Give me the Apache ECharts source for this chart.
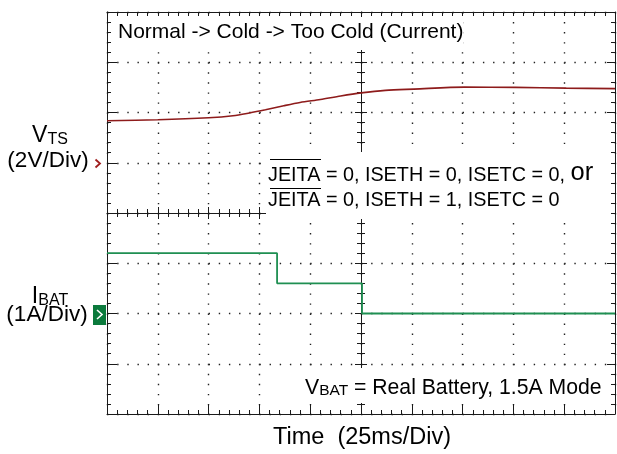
<!DOCTYPE html>
<html><head><meta charset="utf-8">
<script src="https://cdn.jsdelivr.net/npm/echarts@6.0.0/dist/echarts.min.js"></script>
<style>html,body{margin:0;padding:0;background:#fff}#c{width:617px;height:454px}</style>
</head><body><div id="c"></div>
<script>
// V_TS trace (ms, volts) – channel 1, 2 V/div, ground marker at 5th division
const vtsTime  = [0, 25, 50, 62, 70, 78, 87, 95, 105, 115, 125, 137, 151, 176, 201, 226, 250];
const vtsVolts = [1.67, 1.71, 1.79, 1.87, 1.98, 2.11, 2.27, 2.40, 2.52, 2.66, 2.78, 2.88, 2.93, 3.01, 3.00, 2.97, 2.95];
// I_BAT trace (ms, amps) – channel 2, 1 A/div, ground marker at 2nd division
const ibatTime = [0, 83.7, 83.7, 125.5, 125.5, 250];
const ibatAmps = [1.20, 1.20, 0.60, 0.60, 0.00, 0.00];
// scope settings
const timeRange = [0, 250];   // 25 ms/div, 10 div
const voltRange = [-10, 6];   // 2 V/div, 8 div
const ampRange  = [-2, 6];    // 1 A/div, 8 div

const FONT = "'Liberation Sans', Arial, Helvetica, sans-serif";
const K = '#1a1a1a';
const gridRect = {left:107, top:12, right:2, bottom:40};
const dotH = {color:'#222', width:1.4, type:[1.4, 8.76]};
const dotV = {color:'#222', width:1.4, type:[1.4, 8.65]};

function frameAxis(extra){
  return Object.assign({
    type:'value', axisLabel:{show:false}, splitLine:{show:false},
    axisLine:{show:true, lineStyle:{color:K, width:1}},
    axisTick:{show:true, inside:true, length:4, lineStyle:{color:K, width:1}},
    minorTick:{show:true, splitNumber:5, length:4, lineStyle:{color:K, width:1}},
    minorSplitLine:{show:false}
  }, extra);
}

const chart = echarts.init(document.getElementById('c'), null, {renderer:'canvas'});
chart.setOption({
  animation:false,
  backgroundColor:'#fff',
  grid:[Object.assign({}, gridRect), Object.assign({}, gridRect), Object.assign({}, gridRect)],
  xAxis:[
    frameAxis({gridIndex:0, position:'bottom', min:timeRange[0], max:timeRange[1], interval:25,
      axisLine:{show:true, onZero:false, lineStyle:{color:K}},
      axisTick:{show:true, inside:true, length:10, lineStyle:{color:K}},
      splitLine:{show:true, lineStyle:dotV}}),
    frameAxis({gridIndex:0, position:'top', min:timeRange[0], max:timeRange[1], interval:25,
      axisLine:{show:true, onZero:false, lineStyle:{color:K}}}),
    frameAxis({gridIndex:1, position:'bottom', min:-5, max:5, interval:1,
      axisLine:{show:true, onZero:true, lineStyle:{color:K}},
      axisTick:{show:true, inside:true, length:6, lineStyle:{color:K}}}),
    frameAxis({gridIndex:2, position:'top', min:-5, max:5, interval:1,
      axisLine:{show:false, onZero:true},
      axisTick:{show:true, inside:true, length:6, lineStyle:{color:K}}})
  ],
  yAxis:[
    frameAxis({gridIndex:0, position:'left', min:voltRange[0], max:voltRange[1], interval:2,
      axisLine:{show:true, onZero:false, lineStyle:{color:K}},
      axisTick:{show:true, inside:true, length:10, lineStyle:{color:K}},
      splitLine:{show:true, lineStyle:dotH}}),
    frameAxis({gridIndex:0, position:'right', min:ampRange[0], max:ampRange[1], interval:1,
      axisLine:{show:true, onZero:false, lineStyle:{color:K}},
      axisTick:{show:true, inside:true, length:8, lineStyle:{color:K}}}),
    frameAxis({gridIndex:1, position:'left', min:-4, max:4, interval:1,
      axisLine:{show:true, onZero:true, lineStyle:{color:K}},
      axisTick:{show:true, inside:true, length:6, lineStyle:{color:K}}}),
    frameAxis({gridIndex:2, position:'right', min:-4, max:4, interval:1,
      axisLine:{show:false, onZero:true},
      axisTick:{show:true, inside:true, length:6, lineStyle:{color:K}}})
  ],
  series:[
    {type:'line', name:'VTS', xAxisIndex:0, yAxisIndex:0, symbol:'none', smooth:0.3, z:3,
      lineStyle:{color:'#8e1b1b', width:1.6}, data:vtsTime.map((t,i)=>[t, vtsVolts[i]])},
    {type:'line', name:'IBAT', xAxisIndex:0, yAxisIndex:1, symbol:'none', z:3,
      lineStyle:{color:'#1f8f52', width:1.8}, data:ibatTime.map((t,i)=>[t, ibatAmps[i]])}
  ],
  graphic:[
    // white text boxes over graticule
    {type:'rect', z:20, shape:{x:112, y:17, width:351, height:33}, style:{fill:'#fff'}},
    {type:'rect', z:20, shape:{x:266, y:152, width:345, height:67}, style:{fill:'#fff'}},
    {type:'rect', z:20, shape:{x:300, y:368, width:308, height:35}, style:{fill:'#fff'}},
    {type:'text', z:21, x:118, y:32, style:{text:'Normal -> Cold -> Too Cold (Current)', font:'21px '+FONT, fill:'#000', textAlign:'left', textVerticalAlign:'middle'}},
    {type:'text', z:21, x:268, y:173, style:{text:'{n|JEITA = 0, ISETH = 0, ISETC = 0, }{o|or}', fill:'#000', textAlign:'left', textVerticalAlign:'middle',
      rich:{n:{font:'19.8px '+FONT, fill:'#000', verticalAlign:'bottom', lineHeight:26}, o:{font:'25.5px '+FONT, fill:'#000', verticalAlign:'bottom', lineHeight:26}}}},
    {type:'text', z:21, x:268, y:201, style:{text:'JEITA = 0, ISETH = 1, ISETC = 0', font:'19.8px '+FONT, fill:'#000', textAlign:'left', textVerticalAlign:'middle'}},
    {type:'line', z:21, shape:{x1:270, y1:159.5, x2:321, y2:159.5}, style:{stroke:'#000', lineWidth:1}},
    {type:'line', z:21, shape:{x1:270, y1:188.5, x2:321, y2:188.5}, style:{stroke:'#000', lineWidth:1}},
    {type:'text', z:21, x:305, y:386, style:{text:'{v|V}{s|BAT}{v| = Real Battery, 1.5A Mode}', textAlign:'left', textVerticalAlign:'middle',
      rich:{v:{font:'21.2px '+FONT, fill:'#000', verticalAlign:'bottom', lineHeight:25}, s:{font:'15.5px '+FONT, fill:'#000', verticalAlign:'bottom', lineHeight:23}}}},
    // left channel labels
    {type:'text', z:21, x:50, y:134, style:{text:'{v|V}{s|TS}', textAlign:'center', textVerticalAlign:'middle',
      rich:{v:{font:'23px '+FONT, fill:'#000', verticalAlign:'bottom', lineHeight:27}, s:{font:'16px '+FONT, fill:'#000', verticalAlign:'bottom', lineHeight:25}}}},
    {type:'text', z:21, x:48, y:161, style:{text:'(2V/Div)', font:'22.5px '+FONT, fill:'#000', textAlign:'center', textVerticalAlign:'middle'}},
    {type:'text', z:21, x:50, y:295, style:{text:'{v|I}{s|BAT}', textAlign:'center', textVerticalAlign:'middle',
      rich:{v:{font:'23px '+FONT, fill:'#000', verticalAlign:'bottom', lineHeight:27}, s:{font:'16px '+FONT, fill:'#000', verticalAlign:'bottom', lineHeight:25}}}},
    {type:'text', z:21, x:47, y:315, style:{text:'(1A/Div)', font:'22.5px '+FONT, fill:'#000', textAlign:'center', textVerticalAlign:'middle'}},
    // channel markers
    {type:'polyline', z:21, shape:{points:[[95.5,159.5],[100,163.5],[95.5,167.5]]}, style:{stroke:'#a01e1e', lineWidth:1.8, fill:null}},
    {type:'rect', z:21, shape:{x:93, y:305, width:13, height:20}, style:{fill:'#0b7a3c'}},
    {type:'polyline', z:22, shape:{points:[[97,310],[102,314.5],[97,319]]}, style:{stroke:'#fff', lineWidth:1.6, fill:null}},
    // x title
    {type:'text', z:21, x:362, y:438, style:{text:'Time  (25ms/Div)', font:'23.5px '+FONT, fill:'#000', textAlign:'center', textVerticalAlign:'middle'}}
  ]
});
</script></body></html>
